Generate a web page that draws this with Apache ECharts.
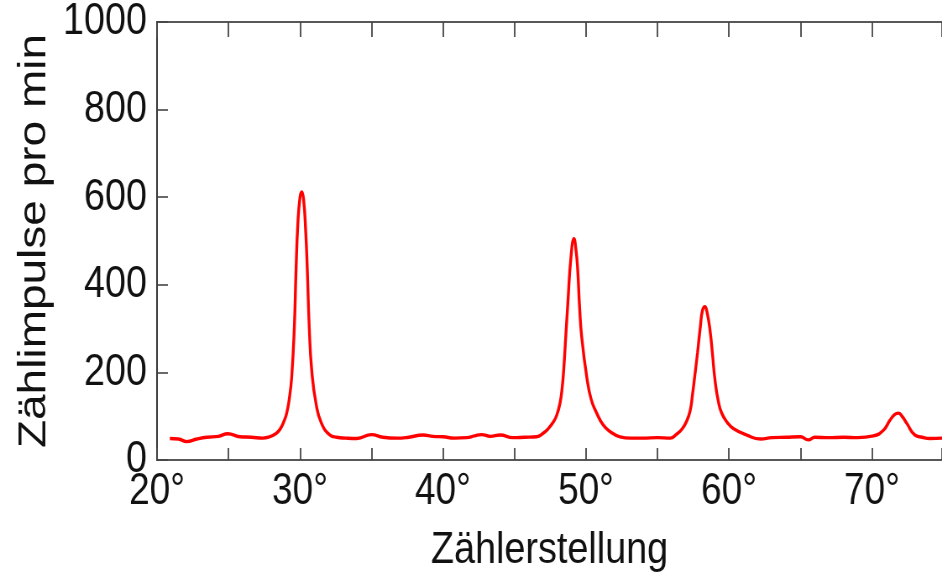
<!DOCTYPE html>
<html>
<head>
<meta charset="utf-8">
<script src="https://cdn.jsdelivr.net/npm/echarts@6/dist/echarts.min.js"></script>
<style>
  html, body { margin: 0; padding: 0; background: #fff; overflow: hidden; }
  /* die Vorlage ist waagerecht gestaucht, daher breiter zeichnen und zusammendrücken */
  #chart { width: 1122px; height: 576px; transform: scaleX(0.8396); transform-origin: 0 0; }
</style>
</head>
<body>
<div id="chart"></div>
<script>
// Zählerstellung (Grad) und Zählimpulse pro min
var winkel = [20.9, 21.5, 22.07, 22.8, 23.5, 24.3, 24.95, 25.8, 26.6, 27.4,
    27.8, 28.3, 28.6, 28.9, 29.07, 29.25, 29.42, 29.6, 29.72, 29.85,
    30.0, 30.12, 30.25, 30.4, 30.51, 30.65, 30.82, 31.12, 31.5, 32.1,
    32.57, 33.2, 33.97, 35.0, 35.8, 36.76, 37.6, 38.6, 39.3, 40.0,
    40.8, 41.66, 42.2, 42.7, 43.3, 44.0, 44.9, 45.7, 46.55, 47.0,
    47.4, 47.7, 47.95, 48.18, 48.34, 48.45, 48.6, 48.73, 48.95, 49.16,
    49.3, 49.42, 49.55, 49.7, 50.05, 50.35, 50.75, 51.2, 51.68, 52.38,
    53.1, 54.0, 55.0, 55.9, 56.3, 56.7, 57.0, 57.28, 57.45, 57.6,
    57.8, 58.0, 58.15, 58.32, 58.45, 58.67, 58.85, 59.02, 59.25, 59.49,
    59.9, 60.3, 61.24, 62.2, 63.0, 64.0, 65.0, 65.55, 66.0, 67.0,
    68.0, 69.0, 70.1, 70.8, 71.26, 71.6, 71.84, 72.1, 72.43, 73.0,
    73.5, 74.06, 74.9];
var impulse = [49, 48, 42, 48, 52, 54, 60, 53, 52, 50,
    52, 60, 70, 90, 107, 140, 190, 300, 430, 540,
    600, 612, 595, 520, 434, 300, 205, 129, 84, 57,
    52, 50, 49, 58, 52, 50, 52, 57, 54, 53,
    50, 51, 55, 58, 54, 57, 51, 52, 53, 61,
    73, 86, 102, 129, 167, 210, 290, 358, 464, 505,
    480, 434, 350, 281, 190, 140, 107, 80, 65, 53,
    50, 50, 51, 50, 58, 70, 86, 112, 150, 190,
    245, 305, 342, 350, 340, 297, 240, 183, 135, 107,
    85, 72, 57, 48, 51, 52, 53, 46, 52, 51,
    52, 51, 55, 68, 91, 104, 107, 100, 84, 57,
    52, 49, 50];

var xMin = 20, xMax = 74.9, xStep = 5;
var yMin = 0, yMax = 1000, yStep = 200;

var punkte = [];
for (var i = 0; i < winkel.length; i++) {
    punkte.push([winkel[i], impulse[i]]);
}

var schrift = "'Liberation Sans', Arial, Helvetica, sans-serif";

var myChart = echarts.init(document.getElementById('chart'));

var option = {
    animation: false,
    grid: {
        left: 187,
        right: 0,
        top: 22,
        bottom: 116,
        outerBoundsMode: 'none',
        containLabel: false
    },
    xAxis: [{
        type: 'value',
        min: xMin,
        max: xMax,
        interval: xStep,
        name: 'Zählerstellung',
        nameLocation: 'middle',
        nameGap: 68,
        nameMoveOverlap: false,
        nameTextStyle: {
            fontFamily: schrift,
            fontSize: 45,
            color: '#111'
        },
        axisLine: { show: true, lineStyle: { color: '#222', width: 1.6 } },
        axisTick: { show: true, inside: true, length: 12, lineStyle: { color: '#444', width: 1.8 } },
        axisLabel: {
            fontFamily: schrift,
            fontSize: 44,
            color: '#111',
            margin: 10,
            formatter: function (v) {
                return v % 10 === 0 ? v + '°' : '';
            }
        },
        splitLine: { show: false }
    }, {
        type: 'value',
        position: 'top',
        min: xMin,
        max: xMax,
        interval: xStep,
        axisLine: { show: true, lineStyle: { color: '#222', width: 1.6 } },
        axisTick: { show: true, inside: true, length: 15, lineStyle: { color: '#444', width: 1.8 } },
        axisLabel: { show: false },
        splitLine: { show: false }
    }],
    yAxis: {
        type: 'value',
        min: yMin,
        max: yMax,
        interval: yStep,
        name: 'Zählimpulse pro min',
        nameLocation: 'middle',
        nameGap: 123,
        nameMoveOverlap: false,
        nameTextStyle: {
            fontFamily: schrift,
            fontSize: 46,
            color: '#111'
        },
        axisLine: { show: true, lineStyle: { color: '#222', width: 1.8 } },
        axisTick: { show: true, inside: true, length: 13, lineStyle: { color: '#444', width: 1.6 } },
        axisLabel: {
            fontFamily: schrift,
            fontSize: 45,
            color: '#111',
            margin: 12,
            formatter: function (v) {
                return String(v);
            }
        },
        splitLine: { show: false }
    },
    series: [{
        type: 'line',
        data: punkte,
        smooth: 0.5,
        showSymbol: false,
        lineStyle: { color: '#ff0000', width: 3.4 },
        itemStyle: { color: '#ff0000' }
    }]
};

myChart.setOption(option);
</script>
</body>
</html>
